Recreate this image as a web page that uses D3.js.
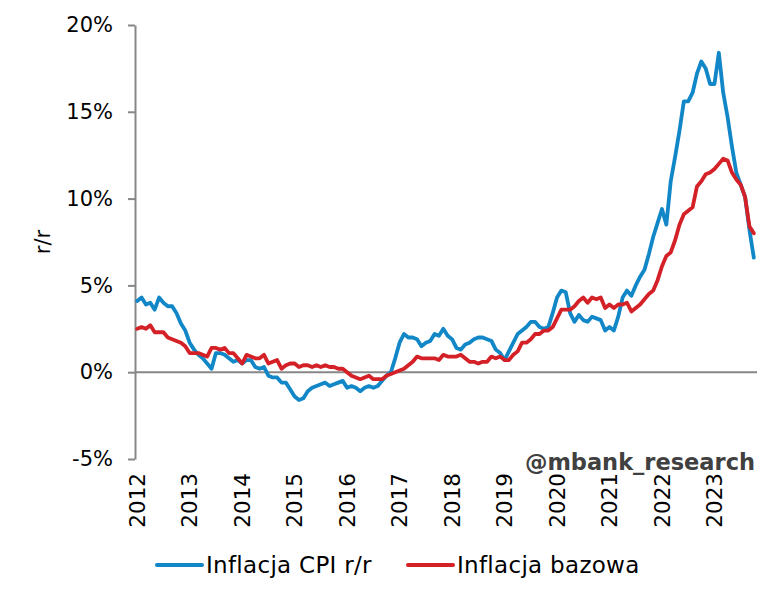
<!DOCTYPE html>
<html>
<head>
<meta charset="utf-8">
<script src="https://cdn.jsdelivr.net/npm/d3@7"></script>
<style>
  html, body { margin: 0; padding: 0; background: #fff; }
  svg { display: block; font-family: "DejaVu Sans", Verdana, sans-serif; }
</style>
</head>
<body>
<svg id="chart" width="782" height="599"></svg>
<script>
// ---- DATA ----
const years = [2012,2013,2014,2015,2016,2017,2018,2019,2020,2021,2022,2023];
const lastMonth = 10; // data ends October 2023
const months = [];
years.forEach(y => { for (let m = 1; m <= 12; m++) { if (y === 2023 && m > lastMonth) break; months.push(y + "-" + String(m).padStart(2, "0")); } });

const cpi = [
  4.1, 4.3, 3.9, 4.0, 3.6, 4.3, 4.0, 3.8, 3.8, 3.4, 2.8, 2.4,
  1.7, 1.3, 1.0, 0.8, 0.5, 0.2, 1.1, 1.1, 1.0, 0.8, 0.6, 0.7,
  0.5, 0.7, 0.7, 0.3, 0.2, 0.3, -0.2, -0.3, -0.3, -0.6, -0.6, -1.0,
  -1.4, -1.6, -1.5, -1.1, -0.9, -0.8, -0.7, -0.6, -0.8, -0.7, -0.6, -0.5,
  -0.9, -0.8, -0.9, -1.1, -0.9, -0.8, -0.9, -0.8, -0.5, -0.2, 0.0, 0.8,
  1.7, 2.2, 2.0, 2.0, 1.9, 1.5, 1.7, 1.8, 2.2, 2.1, 2.5, 2.1,
  1.9, 1.4, 1.3, 1.6, 1.7, 1.9, 2.0, 2.0, 1.9, 1.8, 1.3, 1.1,
  0.7, 1.2, 1.7, 2.2, 2.4, 2.6, 2.9, 2.9, 2.6, 2.5, 2.6, 3.4,
  4.3, 4.7, 4.6, 3.4, 2.9, 3.3, 3.0, 2.9, 3.2, 3.1, 3.0, 2.4,
  2.6, 2.4, 3.2, 4.3, 4.7, 4.4, 5.0, 5.5, 5.9, 6.8, 7.8, 8.6,
  9.4, 8.5, 11.0, 12.4, 13.9, 15.6, 15.6, 16.1, 17.2, 17.9, 17.5, 16.6,
  16.6, 18.4, 16.1, 14.7, 13.0, 11.5, 10.8, 10.1, 8.2, 6.6
];

const core = [
  2.5, 2.6, 2.5, 2.7, 2.3, 2.3, 2.3, 2.0, 1.9, 1.8, 1.7, 1.5,
  1.1, 1.1, 1.1, 1.0, 0.9, 1.4, 1.4, 1.3, 1.4, 1.1, 1.1, 0.8,
  0.5, 1.0, 0.9, 0.8, 0.8, 1.0, 0.5, 0.6, 0.7, 0.2, 0.4, 0.5,
  0.5, 0.3, 0.4, 0.4, 0.3, 0.4, 0.3, 0.4, 0.3, 0.3, 0.2, 0.2,
  0.0, -0.2, -0.3, -0.4, -0.3, -0.2, -0.4, -0.4, -0.4, -0.2, -0.1, 0.0,
  0.1, 0.2, 0.4, 0.6, 0.9, 0.8, 0.8, 0.8, 0.8, 0.7, 1.0, 0.9,
  0.9, 0.9, 1.0, 0.8, 0.6, 0.6, 0.5, 0.6, 0.6, 0.9, 0.8, 0.9,
  0.7, 0.7, 1.0, 1.2, 1.7, 1.7, 1.9, 2.2, 2.2, 2.4, 2.4, 2.6,
  3.1, 3.6, 3.6, 3.6, 3.8, 4.1, 4.3, 4.0, 4.3, 4.2, 4.3, 3.7,
  3.9, 3.7, 3.9, 3.9, 4.0, 3.5, 3.7, 3.9, 4.2, 4.5, 4.7, 5.3,
  6.1, 6.7, 6.9, 7.6, 8.5, 9.1, 9.3, 9.5, 10.7, 11.0, 11.4, 11.5,
  11.7, 12.0, 12.3, 12.2, 11.5, 11.1, 10.8, 10.1, 8.4, 8.0
];

const yTicks = [-5, 0, 5, 10, 15, 20];
const seriesNames = ["Inflacja CPI r/r", "Inflacja bazowa"];
const seriesColors = ["#1287c8", "#d42027"];
const yTitle = "r/r";
const watermark = "@mbank_research";

// ---- LAYOUT ----
const svg = d3.select("#chart");
const plot = { left: 135, right: 756, top: 25, bottom: 459 };
const axisColor = "#878787";

const x = d3.scaleBand().domain(months).range([plot.left, plot.right]).padding(0);
const xc = d => x(d) + x.bandwidth() / 2;
const y = d3.scaleLinear().domain([-5, 20]).range([plot.bottom, plot.top]);

// Y axis
const yAxis = svg.append("g")
  .attr("transform", `translate(${plot.left},0)`)
  .call(d3.axisLeft(y).tickValues(yTicks).tickFormat(d => d + "%").tickSize(7).tickSizeOuter(0).tickPadding(15));
yAxis.select(".domain").attr("stroke", axisColor).attr("stroke-width", 2);
yAxis.selectAll(".tick line").attr("stroke", axisColor).attr("stroke-width", 2);
yAxis.selectAll(".tick text").attr("font-size", 21).attr("fill", "#000")
  .attr("font-family", "DejaVu Sans");

// Zero line
svg.append("line")
  .attr("x1", plot.left).attr("x2", plot.right + 1)
  .attr("y1", y(0)).attr("y2", y(0))
  .attr("stroke", axisColor).attr("stroke-width", 2);

// X axis year labels
const janMonths = months.filter(m => m.endsWith("-01"));
const xAxis = svg.append("g")
  .attr("transform", `translate(0,473)`)
  .call(d3.axisBottom(x).tickValues(janMonths).tickFormat(d => d.slice(0, 4)).tickSize(0));
xAxis.select(".domain").remove();
xAxis.selectAll(".tick text")
  .attr("transform", "rotate(-90)")
  .attr("x", 0).attr("y", 0).attr("dy", "0.36em")
  .attr("text-anchor", "end")
  .attr("font-size", 21.5).attr("fill", "#000")
  .attr("font-family", "DejaVu Sans");

// Y title
svg.append("text")
  .attr("transform", `translate(50,242) rotate(-90)`)
  .attr("text-anchor", "middle")
  .attr("font-size", 21)
  .text(yTitle);

// Lines
const line = d3.line().x((d, i) => xc(months[i])).y(d => y(d));
[cpi, core].forEach((s, k) => {
  svg.append("path")
    .attr("class", "series s" + k)
    .datum(s)
    .attr("d", line)
    .attr("fill", "none")
    .attr("stroke", seriesColors[k])
    .attr("stroke-width", 3.8)
    .attr("stroke-linejoin", "round")
    .attr("stroke-linecap", "round");
});

// Watermark
svg.append("text")
  .attr("x", 755).attr("y", 470)
  .attr("text-anchor", "end")
  .attr("font-size", 22.5).attr("font-weight", "bold")
  .attr("fill", "#404040")
  .text(watermark);

// Legend
const legendItems = [{ x1: 157, x2: 202, tx: 206 }, { x1: 408, x2: 453, tx: 457 }];
legendItems.forEach((it, k) => {
  svg.append("line")
    .attr("x1", it.x1).attr("x2", it.x2).attr("y1", 565).attr("y2", 565)
    .attr("stroke", seriesColors[k]).attr("stroke-width", 4).attr("stroke-linecap", "round");
  svg.append("text")
    .attr("x", it.tx).attr("y", 573)
    .attr("font-size", 23).attr("letter-spacing", 0.3).attr("fill", "#000")
    .text(seriesNames[k]);
});
</script>
</body>
</html>
